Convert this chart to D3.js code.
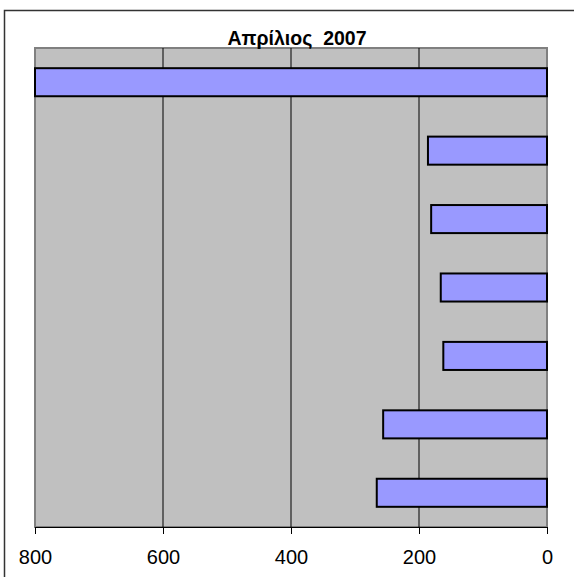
<!DOCTYPE html>
<html>
<head>
<meta charset="utf-8">
<script src="https://cdn.jsdelivr.net/npm/d3@7"></script>
<style>
  body { margin: 0; background: #fff; }
  text { font-family: "Liberation Sans", Arial, sans-serif; }
</style>
</head>
<body>
<div id="chart"></div>
<script>
// Data
const title = 'Απρίλιος  2007';
const categories = ['1', '2', '3', '4', '5', '6', '7'];
const values = [800, 186, 181, 166, 162, 256, 266];
const tickValues = [800, 600, 400, 200, 0];

const W = 574, H = 577;
const margin = {top: 48, right: 27, bottom: 50, left: 35};
let w = W - margin.left - margin.right;
let h = H - margin.top - margin.bottom;

let svg = d3.select('#chart')
  .append('svg')
    .attr('width', W)
    .attr('height', H);

// outer chart frame (runs off the right/bottom edge)
svg.append('rect')
  .attr('x', 4.5).attr('y', 10.5)
  .attr('width', 640).attr('height', 640)
  .attr('fill', 'none')
  .attr('stroke', '#333')
  .attr('stroke-width', 1.5);

let g = svg.append('g')
  .attr('transform', `translate(${margin.left}, ${margin.top})`);

// reversed x: 800 on the left, 0 on the right
let xScale = d3.scaleLinear()
  .domain([800, 0])
  .range([0, w]);

let yScale = d3.scaleBand()
  .domain(categories)
  .range([0, h])
  .paddingInner(0.59)
  .paddingOuter(0.295);

// plot area
g.append('rect')
  .attr('width', w).attr('height', h)
  .attr('fill', '#c0c0c0')
  .attr('stroke', '#808080')
  .attr('stroke-width', 2);

// gridlines
g.selectAll('.grid')
  .data(tickValues.filter(d => d != 800 && d != 0))
  .enter()
  .append('line')
    .attr('class', 'grid')
    .attr('x1', d => xScale(d)).attr('x2', d => xScale(d))
    .attr('y1', 0).attr('y2', h)
    .attr('stroke', '#000')
    .attr('stroke-width', 1);

// bars
g.selectAll('.bar')
  .data(values)
  .enter()
  .append('rect')
    .attr('class', 'bar')
    .attr('x', d => xScale(d))
    .attr('width', d => xScale(0) - xScale(d))
    .attr('y', (d, i) => yScale(categories[i]))
    .attr('height', yScale.bandwidth())
    .attr('fill', '#9999ff')
    .attr('stroke', '#000')
    .attr('stroke-width', 2);

// x axis
let xAxis = d3.axisBottom(xScale)
  .tickValues(tickValues)
  .tickSize(7)
  .tickPadding(16)
  .tickSizeOuter(0);

let axisG = g.append('g')
  .attr('transform', `translate(0, ${h})`)
  .call(xAxis);
axisG.select('.domain').attr('stroke', '#000').attr('stroke-width', 1);
axisG.selectAll('.tick line').attr('stroke', '#000');
axisG.selectAll('.tick text')
  .attr('font-family', '"Liberation Sans", Arial, sans-serif')
  .attr('font-size', 20)
  .attr('fill', '#000');

// title
svg.append('text')
  .attr('x', 297)
  .attr('y', 45)
  .attr('text-anchor', 'middle')
  .attr('font-size', 19.5)
  .attr('font-weight', 'bold')
  .attr('fill', '#000')
  .style('white-space', 'pre')
  .text(title);
</script>
</body>
</html>
